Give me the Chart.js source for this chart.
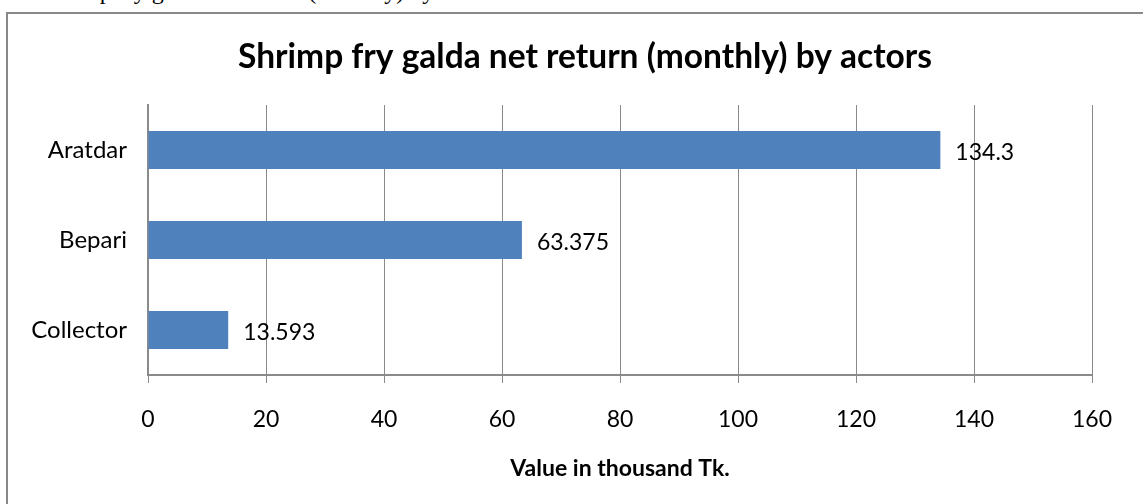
<!DOCTYPE html>
<html>
<head>
<meta charset="utf-8">
<title>Shrimp fry galda net return</title>
<script src="https://cdn.jsdelivr.net/npm/chart.js@4"></script>
<style>
    html, body {
        margin: 0;
        padding: 0;
        background: #ffffff;
        overflow: hidden;
    }
    .caption {
        position: absolute;
        left: 41px;
        top: -22px;
        font-family: "Liberation Serif", serif;
        font-size: 24px;
        color: #000;
        white-space: nowrap;
    }
    .frame {
        position: absolute;
        left: 6px;
        top: 12px;
        width: 1200px;
        height: 600px;
        border: 2px solid #888888;
    }
    .chart-box {
        position: absolute;
        left: 0;
        top: 0;
        width: 1143px;
        height: 504px;
    }
</style>
</head>
<body>
<div class="caption">Shrimp fry galda net return (monthly) by actors</div>
<div class="frame"></div>
<div class="chart-box"><canvas id="netChart"></canvas></div>

<script>
// 数据
const chartTitle = 'Shrimp fry galda net return (monthly) by actors';
const actors = ['Aratdar', 'Bepari', 'Collector'];
const netReturn = [134.3, 63.375, 13.593];
const valueLabels = ['134.3', '63.375', '13.593'];
const xTicks = [0, 20, 40, 60, 80, 100, 120, 140, 160];

const FONT = 'Lato, "Open Sans", sans-serif';
const GRID = '#8a8a8a';

// 标题（以外框为中心，而不是绘图区）
const titlePlugin = {
    id: 'frameTitle',
    afterDraw(chart) {
        const ctx = chart.ctx;
        ctx.save();
        ctx.font = 'bold 33.5px ' + FONT;
        ctx.fillStyle = '#000';
        ctx.textAlign = 'center';
        ctx.textBaseline = 'middle';
        ctx.fillText(chartTitle, 585, 57);
        ctx.restore();
    }
};

// 数值标签
const valueLabelPlugin = {
    id: 'valueLabels',
    afterDatasetsDraw(chart) {
        const ctx = chart.ctx;
        const meta = chart.getDatasetMeta(0);
        ctx.save();
        ctx.font = '23px ' + FONT;
        ctx.fillStyle = '#000';
        ctx.textAlign = 'left';
        ctx.textBaseline = 'middle';
        meta.data.forEach((bar, i) => {
            ctx.fillText(valueLabels[i], bar.x + 15, bar.y + 3);
        });
        ctx.restore();
    }
};

const ctx = document.getElementById('netChart').getContext('2d');
const netChart = new Chart(ctx, {
    type: 'bar',
    data: {
        labels: actors,
        datasets: [{
            data: netReturn,
            backgroundColor: '#4f81bd',
            borderWidth: 0,
            categoryPercentage: 1,
            barPercentage: 0.42
        }]
    },
    options: {
        indexAxis: 'y',
        responsive: true,
        maintainAspectRatio: false,
        animation: false,
        layout: {
            padding: { left: 0, right: 51, top: 105, bottom: 0 }
        },
        plugins: {
            legend: { display: false },
            tooltip: { enabled: false },
            title: { display: false }
        },
        scales: {
            x: {
                min: 0,
                max: 160,
                afterBuildTicks(scale) {
                    scale.ticks = xTicks.map(v => ({ value: v }));
                },
                afterFit(scale) {
                    scale.height = 129;
                },
                grid: {
                    color: GRID,
                    lineWidth: 1,
                    tickLength: 8,
                    drawTicks: true
                },
                border: { display: true, color: GRID, width: 2 },
                ticks: {
                    color: '#000',
                    padding: 23,
                    font: { family: FONT, size: 23 }
                },
                title: {
                    display: true,
                    text: 'Value in thousand Tk.',
                    color: '#000',
                    font: { family: FONT, size: 23, weight: 'bold', lineHeight: 1.2 },
                    padding: { top: 0, bottom: 22 }
                }
            },
            y: {
                afterFit(scale) {
                    scale.width = 148;
                },
                grid: { display: false, drawTicks: false },
                border: { display: true, color: GRID, width: 2 },
                ticks: {
                    color: '#000',
                    padding: 21,
                    font: { family: FONT, size: 24 }
                }
            }
        }
    },
    plugins: [valueLabelPlugin, titlePlugin]
});
</script>
</body>
</html>
